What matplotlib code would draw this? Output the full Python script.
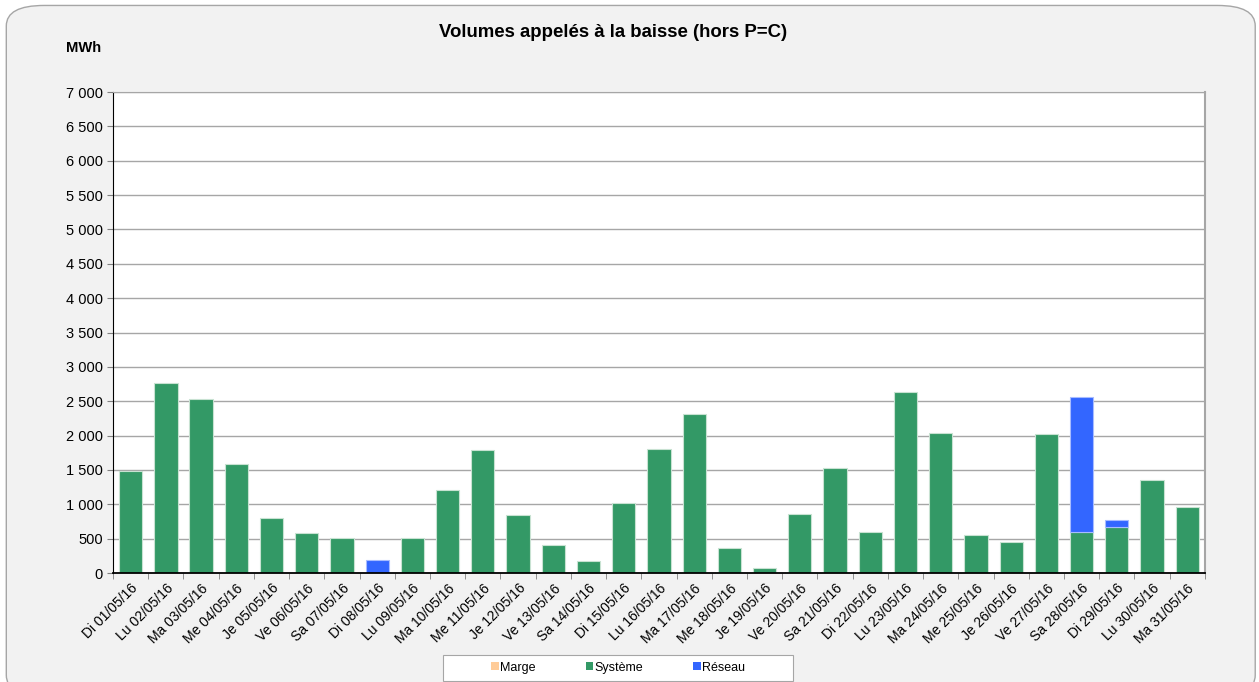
import matplotlib.pyplot as plt
import numpy as np
from matplotlib.patches import FancyBboxPatch, Patch, Rectangle
from matplotlib.ticker import FuncFormatter

days = ['Di 01/05/16', 'Lu 02/05/16', 'Ma 03/05/16', 'Me 04/05/16', 'Je 05/05/16',
        'Ve 06/05/16', 'Sa 07/05/16', 'Di 08/05/16', 'Lu 09/05/16', 'Ma 10/05/16',
        'Me 11/05/16', 'Je 12/05/16', 'Ve 13/05/16', 'Sa 14/05/16', 'Di 15/05/16',
        'Lu 16/05/16', 'Ma 17/05/16', 'Me 18/05/16', 'Je 19/05/16', 'Ve 20/05/16',
        'Sa 21/05/16', 'Di 22/05/16', 'Lu 23/05/16', 'Ma 24/05/16', 'Me 25/05/16',
        'Je 26/05/16', 'Ve 27/05/16', 'Sa 28/05/16', 'Di 29/05/16', 'Lu 30/05/16',
        'Ma 31/05/16']
marge = [0] * 31
systeme = [1490, 2760, 2530, 1590, 795, 585, 515, 0, 505, 1215,
           1785, 840, 405, 175, 1015, 1800, 2320, 360, 70, 855,
           1530, 600, 2635, 2035, 550, 450, 2030, 595, 668, 1355,
           960]
reseau = [0, 0, 0, 0, 0, 0, 0, 185, 0, 0,
          0, 0, 0, 0, 0, 0, 0, 0, 0, 0,
          0, 0, 0, 0, 0, 0, 0, 1963, 99, 0,
          0]

plt.rcParams['font.family'] = ['Liberation Sans', 'DejaVu Sans']

fig = plt.figure(figsize=(12.59, 6.82), dpi=100)
fig.patch.set_facecolor('white')
# rounded grey panel behind the chart
panel = FancyBboxPatch((0.005, -0.02), 0.992, 1.012,
                       boxstyle='round,pad=0,rounding_size=0.03',
                       transform=fig.transFigure, facecolor='#f2f2f2',
                       edgecolor='#a6a6a6', linewidth=1.0, zorder=-10)
fig.patches.append(panel)

ax = fig.add_axes([0.0898, 0.1598, 0.8672, 0.7052])
x = np.arange(len(days))
w = 0.66
handles = []


def stacked(vals, bottom, color, edgecolor, label):
    vals = np.asarray(vals, dtype=float)
    keep = vals > 0  # skip zero-height bars so no stray edge lines
    ax.bar(x[keep], vals[keep], w, bottom=np.asarray(bottom)[keep], color=color,
           edgecolor=edgecolor, linewidth=0.8)
    handles.append(Patch(facecolor=color, label=label))
    return np.asarray(bottom) + vals


base = np.zeros(len(days))
base = stacked(marge, base, '#ffcc99', '#ffe6cc', 'Marge')
base = stacked(systeme, base, '#339966', '#c8e2d2', 'Système')
base = stacked(reseau, base, '#3366ff', '#a8bcff', 'Réseau')

ax.set_xlim(-0.5, len(days) - 0.5)
ax.set_ylim(0, 7000)
ax.set_yticks(np.arange(0, 7001, 500))
ax.yaxis.set_major_formatter(FuncFormatter(lambda v, p: f'{int(v):,}'.replace(',', ' ')))
ax.yaxis.grid(True, color='#a6a6a6', linewidth=1.0)
ax.set_axisbelow(True)
ax.tick_params(axis='y', labelsize=10.5, length=4, color='#808080')

ax.set_xticks(x)
ax.set_xticklabels(days, rotation=45, ha='right', rotation_mode='anchor', fontsize=10)
ax.tick_params(axis='x', which='major', length=0, pad=6)
ax.set_xticks(np.arange(-0.5, len(days), 1), minor=True)
ax.tick_params(axis='x', which='minor', length=4, color='#808080')

ax.spines['top'].set_color('#a6a6a6')
ax.spines['right'].set_color('#a6a6a6')
ax.spines['right'].set_linewidth(1.5)
ax.spines['left'].set_color('black')
ax.spines['bottom'].set_color('black')
ax.spines['bottom'].set_linewidth(1.3)

fig.text(0.487, 0.953, 'Volumes appelés à la baisse (hors P=C)', ha='center',
         va='center', fontsize=13.4, fontweight='bold')
fig.text(0.066, 0.929, 'MWh', ha='center', va='center', fontsize=10.6, fontweight='bold')

# legend box drawn separately so the entries sit in its middle
fig.patches.append(Rectangle((0.352, 0.002), 0.278, 0.038, transform=fig.transFigure,
                             facecolor='white', edgecolor='#a6a6a6', linewidth=0.8,
                             zorder=-5))
fig.legend(handles=handles, loc='center', bbox_to_anchor=(0.491, 0.021), ncol=3,
           fontsize=9, handlelength=0.6, handleheight=0.6, handletextpad=0.1,
           columnspacing=4.0, frameon=False)

fig.savefig('out.png', dpi=100)
